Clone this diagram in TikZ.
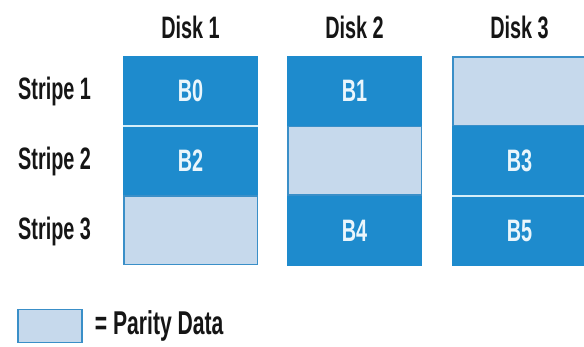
\documentclass[tikz,border=0pt]{standalone}
\usepackage{fontspec}
\newfontfamily\cond[FakeStretch=0.64]{Liberation Sans}
\definecolor{darkb}{HTML}{1E8BCD}
\definecolor{lightb}{HTML}{C6D9EC}
\definecolor{borderb}{HTML}{3A8FC8}
\definecolor{sepc}{HTML}{D5EEF9}
\definecolor{labelc}{HTML}{151515}
\definecolor{cellt}{HTML}{EAF6FC}
\begin{document}
\begin{tikzpicture}[x=1pt,y=1pt,
  lbl/.style={font=\cond\bfseries\fontsize{31}{33}\selectfont, text=labelc, inner sep=0pt},
  datacell/.style={fill=darkb, minimum width=135pt, minimum height=70pt, inner sep=0pt,
    text=cellt, font=\cond\bfseries\fontsize{31}{33}\selectfont},
  paritycell/.style={fill=lightb, draw=borderb, line width=1.5pt, minimum width=133.5pt,
    minimum height=68.5pt, inner sep=0pt},
  sepline/.style={draw=sepc, line width=2.5pt}]
\clip (0,0) rectangle (584,347);
% column headers
\node[lbl] (d1) at (190.5,319.5) {Disk 1};
\node[lbl] (d2) at (354.5,319.5) {Disk 2};
\node[lbl] (d3) at (519.5,319.5) {Disk 3};
% row labels
\node[lbl, anchor=west] (s1) at (18,256) {Stripe 1};
\node[lbl, anchor=west] (s2) at (18,186) {Stripe 2};
\node[lbl, anchor=west] (s3) at (18,116) {Stripe 3};
% Disk 1
\node[datacell] (b0) at (190.5,256) {B0};
\node[datacell] (b2) at (190.5,186) {B2};
\node[paritycell] (p3) at (190.5,116.5) {};
% Disk 2
\node[datacell] (b1) at (354.5,256) {B1};
\node[paritycell] (p2) at (354.5,186) {};
\node[datacell] (b4) at (354.5,116) {B4};
% Disk 3
\node[paritycell] (p1) at (519.5,255.5) {};
\node[datacell] (b3) at (519.5,186) {B3};
\node[datacell] (b5) at (519.5,116) {B5};
% separators
\draw[sepline] (b0.south west) -- (b0.south east);
\draw[sepline] (b3.south west) -- (b3.south east);
% legend
\node[paritycell, minimum width=64pt, minimum height=33pt] (leg) at (50,21) {};
\node[lbl, font=\cond\bfseries\fontsize{33}{35}\selectfont, anchor=west] (legt) at ([xshift=12pt]leg.east) {= Parity Data};
\end{tikzpicture}
\end{document}
